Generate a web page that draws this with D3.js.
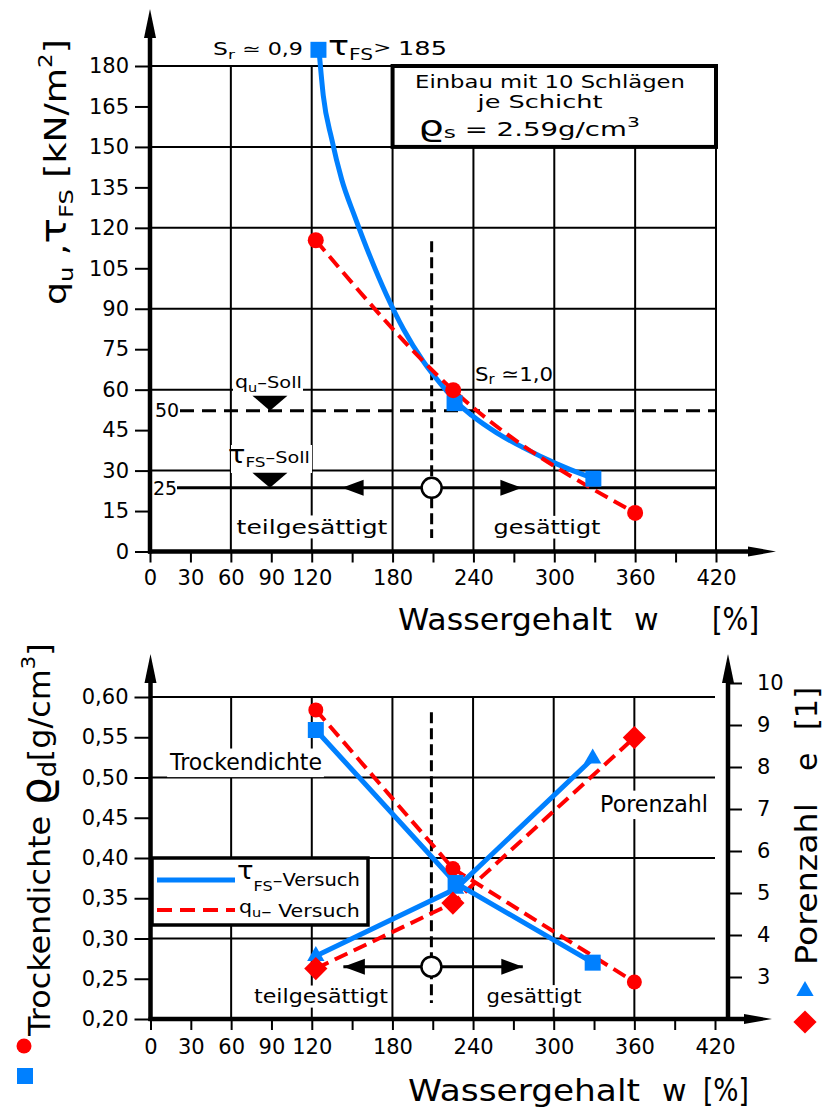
<!DOCTYPE html>
<html><head><meta charset="utf-8">
<script src="https://cdn.jsdelivr.net/npm/d3@7/dist/d3.min.js"></script>
<style>html,body{margin:0;padding:0;background:#fff}svg{display:block}</style>
</head><body>
<svg id="chart" width="824" height="1111" xmlns="http://www.w3.org/2000/svg"></svg>
<script>
// ================= DATA =================
const wTickValues = [0,30,60,90,120,150,180,210,240,270,300,330,360,390,420];
const wTickLabels = [0,30,60,90,120,180,240,300,360,420];
const gridWTop = [60,120,180,240,300,360,420];
const gridWBottom = [60,120,180,240,300,360];

const strengthTicks = [0,15,30,45,60,75,90,105,120,135,150,165,180];
const strengthGrid = [30,60,90,120,150,180];

// tau_FS test (blue squares)
const tauW = [125, 226, 329];
const tauVal = [186, 55, 27];
// tau_FS curve as drawn
const tauFitW   = [125.4,128.6,134.8,142.2,152.1,163.2,175.6,188.0,202.8,220.2,226.3,238.7,257.3,277.0,301.8,321.5,329.4];
const tauFitVal = [186,169,153,138,124,109.5,95,82.5,70.5,59.5,56,50.5,44,38.5,32.5,28.5,27.1];
// q_u test (red circles)
const quW = [123, 225, 360];
const quVal = [115.4, 59.8, 14.3];

// required values (drawn levels) and their labels
const sollLevels = [52.2, 23.6];
const sollLabels = ["50", "25"];
const boundaryW = 209;

// lower chart
const densTicks = [0.20,0.25,0.30,0.35,0.40,0.45,0.50,0.55,0.60];
const densGrid = [0.30,0.40,0.50,0.60];
const poreTicks = [3,4,5,6,7,8,9,10];

const densTauW = [123, 227, 329];
const densTauVal = [0.559, 0.369, 0.270];
const densQuW = [123, 225, 360];
const densQuVal = [0.584, 0.387, 0.246];
const poreTauW = [123, 227, 329];
const poreTauVal = [3.5, 5.1, 8.2];
const poreQuW = [123, 225, 360];
const poreQuVal = [3.2, 4.76, 8.7];

// ================= SETUP =================
const FONT = "DejaVu Sans";
const BLUE = "#0080ff";
const RED = "#ff0000";
const svg = d3.select("#chart");
svg.append("rect").attr("width",824).attr("height",1111).attr("fill","#fff");

function label(parent, x, y, parts, opt = {}) {
  const g = parent.append("g");
  const t = g.append("text").attr("font-family", FONT).attr("fill", "#000")
    .attr("text-anchor", opt.anchor || "start");
  let cur = 0;
  parts.forEach(p => {
    const sp = t.append("tspan").attr("font-size", p.s).text(p.t);
    const off = p.o || 0;
    if (off !== cur) { sp.attr("dy", off - cur); cur = off; }
  });
  let sx = 1;
  if (opt.len) sx = opt.len / t.node().getComputedTextLength();
  g.attr("transform", `translate(${x},${y})` + (opt.rot ? ` rotate(${opt.rot})` : "") + ` scale(${sx},1)`);
  if (opt.bg) {
    const b = t.node().getBBox();
    g.insert("rect", "text").attr("x", b.x - 2).attr("y", b.y)
      .attr("width", b.width + 4).attr("height", b.height + (opt.bgBot || 0)).attr("fill", "#fff");
  }
  return g;
}
function line(g, x1, y1, x2, y2, w, dash) {
  const l = g.append("line").attr("x1",x1).attr("y1",y1).attr("x2",x2).attr("y2",y2)
    .attr("stroke","#000").attr("stroke-width",w);
  if (dash) l.attr("stroke-dasharray", dash);
  return l;
}
function poly(g, pts, fill) {
  return g.append("polygon").attr("points", pts.map(p => p.join(",")).join(" ")).attr("fill", fill || "#000");
}

// ================= TOP CHART =================
const xT = d3.scaleLinear().domain([0,420]).range([150,716]);
const yT = d3.scaleLinear().domain([0,180]).range([551.5,66]);
const gT = svg.append("g");

// grid
gT.selectAll(".hg").data(strengthGrid).join("line")
  .attr("x1", xT(0)).attr("x2", d => d === 180 ? xT(180) : xT(420))
  .attr("y1", d => yT(d)).attr("y2", d => yT(d))
  .attr("stroke","#000").attr("stroke-width",2);
gT.selectAll(".vg").data(gridWTop).join("line")
  .attr("x1", d => xT(d)).attr("x2", d => xT(d))
  .attr("y1", yT(0)).attr("y2", yT(180))
  .attr("stroke","#000").attr("stroke-width",2);

// info box
gT.append("rect").attr("x", xT(180)).attr("y", yT(180))
  .attr("width", xT(420) - xT(180)).attr("height", yT(150) - yT(180))
  .attr("fill","#fff").attr("stroke","#000").attr("stroke-width",4);
label(gT, 550, 88, [{t:"Einbau mit 10 Schlägen", s:18}], {anchor:"middle", len:270});
label(gT, 540, 108, [{t:"je Schicht", s:18}], {anchor:"middle", len:125});
label(gT, 418, 136, [{t:"ϱ", s:28},{t:"s", s:16, o:2},{t:" = 2.59g/cm", s:19, o:0},{t:"3", s:14, o:-9}], {len:222});

// zone labels with white background
label(gT, 312, 534, [{t:"teilgesättigt", s:20}], {anchor:"middle", len:151, bg:true});
label(gT, 547, 534, [{t:"gesättigt", s:20}], {anchor:"middle", len:107, bg:true});

// Soll labels
gT.append("rect").attr("x",233).attr("y",373).attr("width",70).attr("height",21).attr("fill","#fff");
label(gT, 235, 388, [{t:"q", s:17},{t:"u", s:12, o:4},{t:"–Soll", s:16, o:0}], {len:67});
gT.append("rect").attr("x",231).attr("y",445).attr("width",81).attr("height",28).attr("fill","#fff");
label(gT, 228, 463, [{t:"τ", s:24},{t:"FS", s:14, o:4},{t:"–Soll", s:16, o:0}], {len:82});

// required level lines
label(gT, 167, 417, [{t:sollLabels[0], s:19}], {anchor:"middle", bg:true});
line(gT, 180, yT(sollLevels[0]), xT(420), yT(sollLevels[0]), 3, "14,8");
label(gT, 165, 495, [{t:sollLabels[1], s:19}], {anchor:"middle", bg:true});
line(gT, 177, yT(sollLevels[1]), xT(420), yT(sollLevels[1]), 3);

// triangles marking required values
sollLevels.forEach(v => {
  const yy = yT(v), cx = xT(89);
  poly(gT, [[cx - 17.5, yy - 15], [cx + 17.5, yy - 15], [cx, yy]]);
});

// boundary dashed line
line(gT, xT(boundaryW), yT(115), xT(boundaryW), yT(5), 3, "11,5");
// arrows on 25 line
{
  const yy = yT(sollLevels[1]);
  poly(gT, [[xT(142.5), yy], [xT(158.5), yy - 8], [xT(158.5), yy + 8]]);
  poly(gT, [[xT(276), yy], [xT(260), yy - 8], [xT(260), yy + 8]]);
  gT.append("circle").attr("cx", xT(boundaryW)).attr("cy", yy).attr("r", 10)
    .attr("fill","#fff").attr("stroke","#000").attr("stroke-width",2.5);
}

// data curves
const tauFit = tauFitW.map((w,i) => [w, tauFitVal[i]]);
gT.append("path").datum(tauFit)
  .attr("d", d3.line().x(d => xT(d[0])).y(d => yT(d[1])).curve(d3.curveMonotoneX))
  .attr("fill","none").attr("stroke",BLUE).attr("stroke-width",5);
const quPts = quW.map((w,i) => [w, quVal[i]]);
gT.append("path").datum(quPts)
  .attr("d", d3.line().x(d => xT(d[0])).y(d => yT(d[1])).curve(d3.curveMonotoneX))
  .attr("fill","none").attr("stroke",RED).attr("stroke-width",4).attr("stroke-dasharray","14,7");
// markers
gT.selectAll(".tsq").data(tauW.map((w,i)=>[w,tauVal[i]])).join("rect")
  .attr("x", d => xT(d[0]) - 8).attr("y", d => yT(d[1]) - 8).attr("width",16).attr("height",16).attr("fill",BLUE);
gT.selectAll(".qci").data(quPts).join("circle")
  .attr("cx", d => xT(d[0])).attr("cy", d => yT(d[1])).attr("r", 8).attr("fill",RED);

// annotations
label(gT, 213, 55, [{t:"S", s:18},{t:"r", s:13, o:4},{t:" ≃  0,9", s:17, o:0}], {len:90});
label(gT, 328, 55, [{t:"τ", s:26},{t:"FS", s:15, o:5},{t:"> ", s:16, o:-2},{t:" 185", s:19, o:0}], {len:119});
label(gT, 475, 381, [{t:"S", s:20},{t:"r", s:14, o:3},{t:" ≃1,0", s:20, o:0}], {len:78});

// axes
const axYT = gT.append("g").attr("transform", `translate(${xT(0)},0)`)
  .call(d3.axisLeft(yT).tickValues(strengthTicks).tickSize(15).tickPadding(6));
axYT.select(".domain").remove();
axYT.selectAll("line").attr("stroke-width",2);
axYT.selectAll("text").attr("font-family",FONT).attr("font-size",21).attr("fill","#000");
const axXT = gT.append("g").attr("transform", `translate(0,${yT(0)})`)
  .call(d3.axisBottom(xT).tickValues(wTickValues).tickSize(11).tickPadding(8)
    .tickFormat(d => wTickLabels.includes(d) ? d : ""));
axXT.select(".domain").remove();
axXT.selectAll("line").attr("stroke-width",2);
axXT.selectAll("text").attr("font-family",FONT).attr("font-size",21).attr("fill","#000");
line(gT, xT(0), yT(0) + 2, xT(0), 30, 4.5);
poly(gT, [[xT(0), 9], [xT(0) - 6, 38], [xT(0) + 6, 38]]);
line(gT, xT(0) - 2, yT(0), 752, yT(0), 4.5);
poly(gT, [[776, yT(0)], [748, yT(0) - 5], [748, yT(0) + 5]]);

// axis titles
label(gT, 66, 305, [{t:"q", s:30},{t:"u", s:20, o:7},{t:" ,", s:30, o:0},{t:"τ", s:35},{t:"FS", s:20, o:7},{t:" [kN/m", s:30, o:0},{t:"2", s:19, o:-14},{t:"]", s:30, o:0}], {rot:-90, len:266});
label(gT, 398, 630, [{t:"Wassergehalt", s:30}], {len:214});
label(gT, 634, 630, [{t:"w", s:30}], {});
label(gT, 712, 630, [{t:"[%]", s:32}], {len:47});

// ================= BOTTOM CHART =================
const xB = d3.scaleLinear().domain([0,420]).range([150.5,715]);
const yL = d3.scaleLinear().domain([0.2,0.6]).range([1019,697]);
const yR = d3.scaleLinear().domain([2,10]).range([1019,683]);
const gB = svg.append("g");

gB.selectAll(".hg").data(densGrid).join("line")
  .attr("x1", xB(0)).attr("x2", xB(420)).attr("y1", d => yL(d)).attr("y2", d => yL(d))
  .attr("stroke","#000").attr("stroke-width",2);
gB.selectAll(".vg").data(gridWBottom).join("line")
  .attr("x1", d => xB(d)).attr("x2", d => xB(d)).attr("y1", yL(0.2)).attr("y2", yL(0.6))
  .attr("stroke","#000").attr("stroke-width",2);

label(gB, 246, 770, [{t:"Trockendichte", s:23}], {anchor:"middle", len:152, bg:true, bgBot:2});
label(gB, 654, 812, [{t:"Porenzahl", s:23}], {anchor:"middle", len:108, bg:true, bgBot:2});
label(gB, 321, 1003, [{t:"teilgesättigt", s:19}], {anchor:"middle", len:134, bg:true});
label(gB, 534, 1003, [{t:"gesättigt", s:19}], {anchor:"middle", len:95, bg:true});

// boundary dashed line and arrows
line(gB, xB(boundaryW), yL(0.581), xB(boundaryW), yL(0.22), 3, "11,5");
{
  const yy = yL(0.265);
  line(gB, xB(143.5), yy, xB(277), yy, 3);
  poly(gB, [[xB(143.5), yy], [xB(159.5), yy - 8], [xB(159.5), yy + 8]]);
  poly(gB, [[xB(277), yy], [xB(261), yy - 8], [xB(261), yy + 8]]);
  gB.append("circle").attr("cx", xB(boundaryW)).attr("cy", yy).attr("r", 10)
    .attr("fill","#fff").attr("stroke","#000").attr("stroke-width",2.5);
}

// legend
gB.append("rect").attr("x",152).attr("y",858).attr("width",216).attr("height",67)
  .attr("fill","#fff").attr("stroke","#000").attr("stroke-width",3.5);
line(gB, 157, 880, 235, 880, 5).attr("stroke", BLUE);
line(gB, 157, 910, 235, 910, 4, "15,8").attr("stroke", RED);
label(gB, 237, 879, [{t:"τ", s:24},{t:"FS", s:14, o:12},{t:"–Versuch", s:17, o:7}], {len:123});
label(gB, 239, 913, [{t:"q", s:17},{t:"u", s:12, o:4},{t:"–  Versuch", s:17, o:4}], {len:121});

// series
const mk = (W, V, ys) => W.map((w,i) => [xB(w), ys(V[i])]);
const lineGen = d3.line().curve(d3.curveLinear);
const densQu = mk(densQuW, densQuVal, yL), poreQu = mk(poreQuW, poreQuVal, yR);
const densTau = mk(densTauW, densTauVal, yL), poreTau = mk(poreTauW, poreTauVal, yR);
[densQu, poreQu].forEach(p => gB.append("path").attr("d", lineGen(p)).attr("fill","none")
  .attr("stroke",RED).attr("stroke-width",4).attr("stroke-dasharray","14,7"));
[densTau, poreTau].forEach(p => gB.append("path").attr("d", lineGen(p)).attr("fill","none")
  .attr("stroke",BLUE).attr("stroke-width",5));
gB.selectAll(".tri").data(poreTau).join("path")
  .attr("transform", d => `translate(${d[0]},${d[1]})`)
  .attr("d", d3.symbol(d3.symbolTriangle, 130)).attr("fill", BLUE);
gB.selectAll(".dia").data(poreQu).join("rect")
  .attr("x",-8.2).attr("y",-8.2).attr("width",16.4).attr("height",16.4)
  .attr("transform", d => `translate(${d[0]},${d[1]}) rotate(45)`).attr("fill", RED);
gB.selectAll(".ci").data(densQu).join("circle")
  .attr("cx", d => d[0]).attr("cy", d => d[1]).attr("r", 7.5).attr("fill", RED);
gB.selectAll(".sq").data(densTau).join("rect")
  .attr("x", d => d[0] - 8).attr("y", d => d[1] - 8).attr("width",16).attr("height",16).attr("fill", BLUE);

// axes
const axL = gB.append("g").attr("transform", `translate(${xB(0)},0)`)
  .call(d3.axisLeft(yL).tickValues(densTicks).tickSize(16).tickPadding(6)
    .tickFormat(d => d3.format(".2f")(d).replace(".", ",")));
axL.select(".domain").remove();
axL.selectAll("line").attr("stroke-width",2);
axL.selectAll("text").attr("font-family",FONT).attr("font-size",21).attr("fill","#000");
const xRaxis = 728;
const axR = gB.append("g").attr("transform", `translate(${xRaxis},0)`)
  .call(d3.axisRight(yR).tickValues(poreTicks).tickSize(14).tickPadding(15));
axR.select(".domain").remove();
axR.selectAll("line").attr("stroke-width",2);
axR.selectAll("text").attr("font-family",FONT).attr("font-size",21).attr("fill","#000");
const axXB = gB.append("g").attr("transform", `translate(0,${yL(0.2)})`)
  .call(d3.axisBottom(xB).tickValues(wTickValues).tickSize(11).tickPadding(9)
    .tickFormat(d => wTickLabels.includes(d) ? d : ""));
axXB.select(".domain").remove();
axXB.selectAll("line").attr("stroke-width",2);
axXB.selectAll("text").attr("font-family",FONT).attr("font-size",21).attr("fill","#000");

line(gB, xB(0), yL(0.2) + 2, xB(0), 675, 4.5);
poly(gB, [[xB(0), 654], [xB(0) - 6, 683], [xB(0) + 6, 683]]);
line(gB, xRaxis, yL(0.2) + 2, xRaxis, 675, 4.5);
poly(gB, [[xRaxis, 654], [xRaxis - 6, 683], [xRaxis + 6, 683]]);
line(gB, xB(0) - 2, yL(0.2), 748, yL(0.2), 4.5);
poly(gB, [[772, yL(0.2)], [744, yL(0.2) - 5], [744, yL(0.2) + 5]]);

// axis titles
label(gB, 50, 1036, [{t:"Trockendichte ", s:30},{t:"ϱ", s:42},{t:"d", s:24, o:6},{t:"[g/cm", s:30, o:0},{t:"3", s:20, o:-15},{t:"]", s:30, o:0}], {rot:-90, len:393});
gB.append("circle").attr("cx",24).attr("cy",1046).attr("r",7.5).attr("fill",RED);
gB.append("rect").attr("x",17).attr("y",1068).attr("width",16).attr("height",16).attr("fill",BLUE);

label(gB, 817, 965, [{t:"Porenzahl", s:30}], {rot:-90, len:162});
label(gB, 817, 771, [{t:"e", s:30}], {rot:-90});
label(gB, 817, 730, [{t:"[1]", s:30}], {rot:-90, len:43});
gB.append("path").attr("transform","translate(805,991)").attr("d", d3.symbol(d3.symbolTriangle, 130)).attr("fill", BLUE);
gB.append("rect").attr("x",-8.2).attr("y",-8.2).attr("width",16.4).attr("height",16.4)
  .attr("transform","translate(805,1022) rotate(45)").attr("fill",RED);

label(gB, 408, 1101, [{t:"Wassergehalt", s:30}], {len:232});
label(gB, 662, 1101, [{t:"w", s:30}], {});
label(gB, 703, 1101, [{t:"[%]", s:32}], {len:46});
</script>
</body></html>
